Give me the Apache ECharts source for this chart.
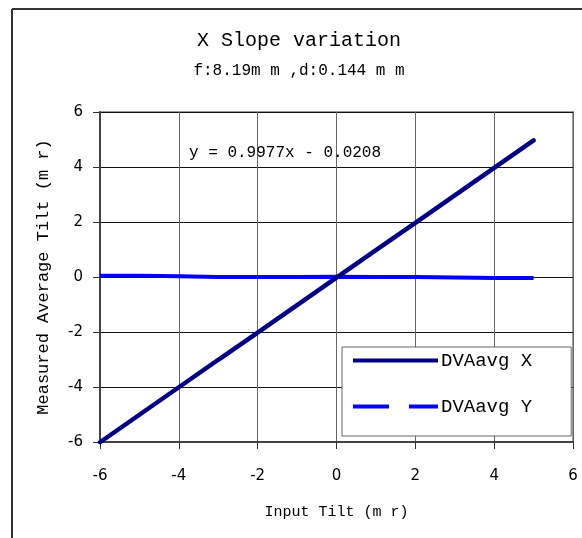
<!DOCTYPE html>
<html>
<head>
<meta charset="utf-8">
<script src="https://cdn.jsdelivr.net/npm/echarts@6/dist/echarts.min.js"></script>
<style>
  html, body { margin: 0; padding: 0; background: #fff; }
  #chart { width: 582px; height: 538px; }
</style>
</head>
<body>
<div id="chart"></div>
<script>
// input tilt (mr)
var inputTilt = [-6, -5, -4, -3, -2, -1, 0, 1, 2, 3, 4, 5];
// measured average tilt, X and Y
var dvaX = [-6.01, -5.01, -4.01, -3.01, -2.02, -1.02, -0.02, 0.98, 1.97, 2.97, 3.97, 4.97];
var dvaY = [0.05, 0.05, 0.03, 0.0, 0.0, 0.0, 0.01, 0.0, 0.0, -0.02, -0.04, -0.04];
var axisTicks = [-6, -4, -2, 0, 2, 4, 6];
var seriesNames = ['DVAavg X', 'DVAavg Y'];

var mono = 'Liberation Mono';
var chart = echarts.init(document.getElementById('chart'));

var pairs = function(xs, ys) {
    return xs.map(function(x, i) { return [x, ys[i]]; });
};

var option = {
    backgroundColor: '#fff',
    animation: false,
    title: {
        text: 'X Slope variation',
        subtext: 'f:8.19m m ,d:0.144 m m',
        left: 299,
        top: 31,
        textAlign: 'center',
        padding: 0,
        itemGap: 12,
        textStyle: { fontFamily: mono, fontSize: 20, fontWeight: 'normal', color: '#000' },
        subtextStyle: { fontFamily: mono, fontSize: 16, color: '#000' }
    },
    grid: { left: 100, top: 112, right: 9, bottom: 96, show: true, borderColor: '#999', borderWidth: 2 },
    legend: {
        orient: 'vertical',
        left: 342,
        top: 347,
        backgroundColor: '#fff',
        borderColor: '#666',
        borderWidth: 1,
        borderRadius: 0,
        padding: [4, 39, 20, 11],
        itemGap: 27,
        itemWidth: 85,
        itemHeight: 4,
        textStyle: { fontFamily: mono, fontSize: 19, color: '#000', padding: [0, 0, 0, -2] },
        data: [
            { name: seriesNames[0], icon: 'path://M0,0h85v4h-85z' },
            { name: seriesNames[1], icon: 'path://M0,0h36v4h-36z M56,0h29v4h-29z' }
        ]
    },
    xAxis: {
        type: 'value',
        min: axisTicks[0],
        max: axisTicks[axisTicks.length - 1],
        interval: 2,
        name: 'Input Tilt (m r)',
        nameLocation: 'middle',
        nameGap: 63,
        nameTextStyle: { fontFamily: mono, fontSize: 15, color: '#000' },
        axisLine: { onZero: false, lineStyle: { color: '#444', width: 2 } },
        axisTick: { length: 7, lineStyle: { color: '#333' } },
        axisLabel: { margin: 27, fontFamily: 'DejaVu Sans', fontSize: 15, color: '#000' },
        splitLine: { lineStyle: { color: '#666', width: 1 } }
    },
    yAxis: {
        type: 'value',
        min: axisTicks[0],
        max: axisTicks[axisTicks.length - 1],
        interval: 2,
        name: 'Measured Average Tilt (m r)',
        nameLocation: 'middle',
        nameGap: 48,
        nameTextStyle: { fontFamily: mono, fontSize: 17, color: '#000' },
        axisLine: { onZero: false, lineStyle: { color: '#444', width: 2 } },
        axisTick: { length: 7, lineStyle: { color: '#333' } },
        axisLabel: { margin: 17, fontFamily: 'DejaVu Sans', fontSize: 15, color: '#000' },
        splitLine: { lineStyle: { color: '#111', width: 1 } }
    },
    graphic: [
        { type: 'line', shape: { x1: 12, y1: 9, x2: 582, y2: 9 }, style: { stroke: '#333', lineWidth: 2 } },
        { type: 'line', shape: { x1: 12, y1: 9, x2: 12, y2: 538 }, style: { stroke: '#333', lineWidth: 2 } },
        {
            type: 'text', left: 189, top: 145, z: 10,
            style: { text: 'y = 0.9977x - 0.0208', fontFamily: mono, fontSize: 16, fill: '#000' }
        }
    ],
    series: [
        {
            name: seriesNames[0],
            type: 'line',
            data: pairs(inputTilt, dvaX),
            symbol: 'none',
            z: 3,
            lineStyle: { color: '#000080', width: 4.5, cap: 'round' },
            itemStyle: { color: '#000080' }
        },
        {
            name: seriesNames[1],
            type: 'line',
            data: pairs(inputTilt, dvaY),
            symbol: 'none',
            z: 2,
            lineStyle: { color: '#0000ff', width: 4 },
            itemStyle: { color: '#0000ff' }
        }
    ]
};
chart.setOption(option);
</script>
</body>
</html>
